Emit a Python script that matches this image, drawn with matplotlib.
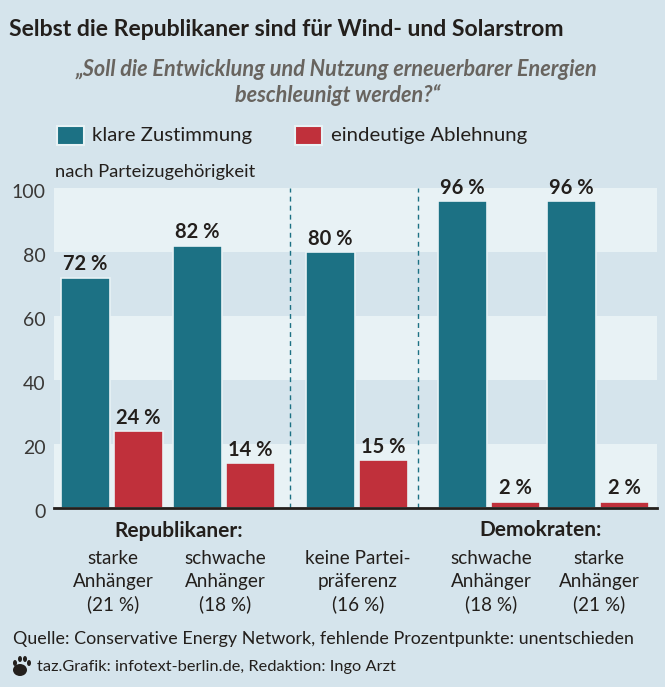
#!/usr/bin/env python3
"""taz chart: support for renewables by party affiliation."""

import matplotlib
matplotlib.use('Agg')
import matplotlib.pyplot as plt
from matplotlib.patches import Ellipse, Rectangle
from matplotlib.transforms import ScaledTranslation

# ================= DATA =================
SERIES_NAMES = ['klare Zustimmung', 'eindeutige Ablehnung']
ZUSTIMMUNG = [72, 82, 80, 96, 96]
ABLEHNUNG = [24, 14, 15, 2, 2]
GROUP_LABELS = ['starke\nAnhänger\n(21 %)', 'schwache\nAnhänger\n(18 %)',
                'keine Partei-\npräferenz\n(16 %)', 'schwache\nAnhänger\n(18 %)',
                'starke\nAnhänger\n(21 %)']
Y_TICKS = [0, 20, 40, 60, 80, 100]

# ================= STYLE =================
W, H = 665, 687
BG = '#d5e4ec'
BAND = '#e8f2f5'
TEAL = '#1c7184'
RED = '#c0303b'
DARK = '#231f1c'
GREY = '#68645f'
FONT = ['Lato', 'DejaVu Sans']

# pixel layout of the plot area
AX_LEFT, AX_RIGHT, AX_TOP, AX_BOTTOM = 54, 657, 188, 508
CENTERS = [112, 224, 357, 489, 598]
LABEL_CENTERS = [113, 225, 358, 491, 599]
OFFSET = 26.5
BAR_W = 49

fig = plt.figure(figsize=(W / 100, H / 100), dpi=100, facecolor=BG)
ax = fig.add_axes([AX_LEFT / W, 1 - AX_BOTTOM / H,
                   (AX_RIGHT - AX_LEFT) / W, (AX_BOTTOM - AX_TOP) / H])
ax.set_facecolor(BG)
ax.set_xlim(AX_LEFT, AX_RIGHT)
ax.set_ylim(0, 100)

for lo in (0, 40, 80):
    ax.axhspan(lo, lo + 20, color=BAND, lw=0, zorder=0)

for x in (290, 418):
    ax.plot([x, x], [0, 100], color=TEAL, lw=1, ls=(0, (3.5, 3)), zorder=1)

for c, yes, no in zip(CENTERS, ZUSTIMMUNG, ABLEHNUNG):
    ax.bar(c - OFFSET, yes, BAR_W, color=TEAL, edgecolor=BAND, lw=1.2, zorder=2)
    ax.bar(c + OFFSET, no, BAR_W, color=RED, edgecolor=BAND, lw=1.2, zorder=2)
    ax.text(c - OFFSET, yes + 1.0, f'{yes} %', ha='center', va='bottom', fontsize=14.5,
            fontweight='bold', family=FONT, color=DARK, zorder=3)
    ax.text(c + OFFSET, no + 1.0, f'{no} %', ha='center', va='bottom', fontsize=14.5,
            fontweight='bold', family=FONT, color=DARK, zorder=3)

for s in ('top', 'left', 'right'):
    ax.spines[s].set_visible(False)
ax.spines['bottom'].set_linewidth(2)
ax.spines['bottom'].set_color(DARK)
ax.spines['bottom'].set_zorder(5)
ax.set_xticks([])
ax.set_yticks(Y_TICKS)
ax.tick_params(axis='y', length=0, pad=6)
for t in ax.get_yticklabels():
    t.set_fontsize(14)
    t.set_family(FONT)
    t.set_color('#3a3836')
    t.set_transform(t.get_transform() + ScaledTranslation(0, -3 / 100, fig.dpi_scale_trans))


def px_text(x, y, s, **kw):
    """Text placed in image pixel coordinates."""
    kw.setdefault('family', FONT)
    kw.setdefault('color', DARK)
    kw.setdefault('va', 'center')
    return fig.text(x / W, 1 - y / H, s, **kw)


px_text(9, 30, 'Selbst die Republikaner sind für Wind- und Solarstrom',
        fontsize=16.6, fontweight='bold')
px_text(336, 70, '„Soll die Entwicklung und Nutzung erneuerbarer Energien',
        fontsize=15.6, fontweight='bold', style='italic', color=GREY, ha='center')
px_text(338, 95, 'beschleunigt werden?“',
        fontsize=15.6, fontweight='bold', style='italic', color=GREY, ha='center')

for x, col, name, tx in zip((57, 295), (TEAL, RED), SERIES_NAMES, (92, 331)):
    fig.add_artist(Rectangle((x / W, 1 - 145 / H), 27 / W, 19 / H, transform=fig.transFigure,
                             facecolor=col, edgecolor=BAND, lw=1.5))
    px_text(tx, 136, name, fontsize=14.7)

px_text(55, 172, 'nach Parteizugehörigkeit', fontsize=13.2)

px_text(179, 531, 'Republikaner:', fontsize=15, fontweight='bold', ha='center')
px_text(541, 530, 'Demokraten:', fontsize=15, fontweight='bold', ha='center')
for c, label in zip(LABEL_CENTERS, GROUP_LABELS):
    for i, line in enumerate(label.split('\n')):
        px_text(c, 558 + i * 23, line, fontsize=13.6, ha='center')

px_text(13, 639, 'Quelle: Conservative Energy Network, fehlende Prozentpunkte: unentschieden',
        fontsize=12.9)
px_text(37, 667, 'taz.Grafik: infotext-berlin.de, Redaktion: Ingo Arzt', fontsize=11.8)

# paw icon
for x, y, w, h in [(20, 670, 14, 12), (15, 663, 4, 6), (20, 659, 4, 6), (25, 659, 4, 6), (29, 663, 4, 6)]:
    fig.add_artist(Ellipse((x / W, 1 - y / H), w / W, h / H, transform=fig.transFigure,
                           facecolor=DARK, edgecolor='none'))

fig.savefig('out.png', dpi=100, facecolor=BG)
